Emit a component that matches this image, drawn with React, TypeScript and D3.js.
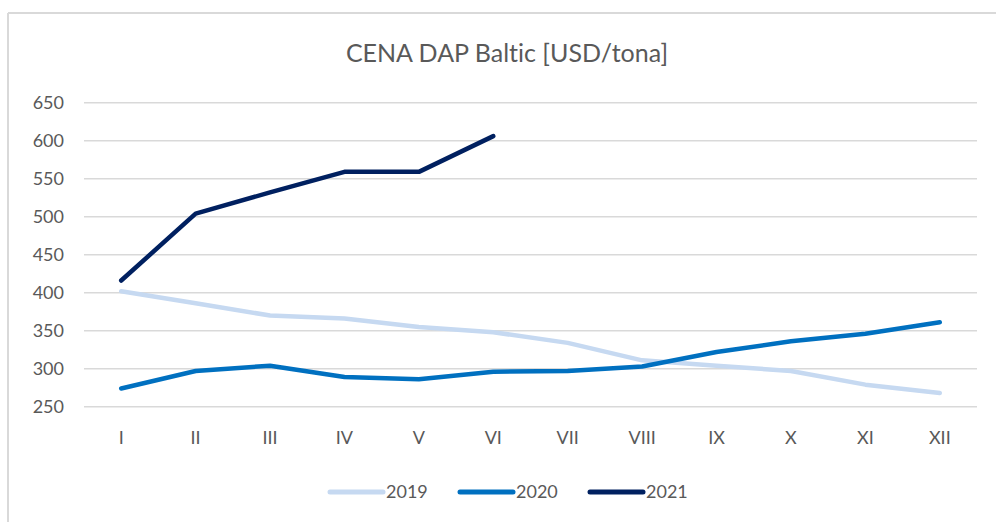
import * as React from 'react';
import * as d3 from 'd3';

const months = ['I', 'II', 'III', 'IV', 'V', 'VI', 'VII', 'VIII', 'IX', 'X', 'XI', 'XII'];
const values2019 = [402, 386, 370, 366, 355, 348, 334, 311, 304, 297, 279, 268];
const values2020 = [274, 297, 304, 289, 286, 296, 297, 303, 322, 336, 346, 361];
const values2021 = [416, 504, 532, 559, 559, 606];
const yTicks = [250, 300, 350, 400, 450, 500, 550, 600, 650];

const series = [
  {name: '2019', values: values2019, color: '#c6d9f1'},
  {name: '2020', values: values2020, color: '#0070c0'},
  {name: '2021', values: values2021, color: '#002060'},
];

const W = 996;
const H = 522;
const font = 'Lato, "Open Sans", sans-serif';
const textColor = '#595959';

export default function App() {
  const x = d3.scalePoint<string>().domain(months).range([84, 977]).padding(0.5);
  const y = d3.scaleLinear().domain([250, 650]).range([406.7, 102.7]);

  const line = d3.line<number>()
    .x((_, i) => x(months[i]) as number)
    .y(d => y(d));

  const legendX = [330, 460, 590];

  return (
    <svg width={W} height={H} style={{position: 'absolute', left: 0, top: 0, background: '#fff', fontVariantLigatures: 'none'}}
         fontFamily={font}>
      <rect x={0} y={0} width={W} height={H} fill="#fff"/>
      {/* frame of the chart area */}
      <line x1={8} x2={W} y1={13} y2={13} stroke="#d9d9d9" strokeWidth={2}/>
      <line x1={8} x2={8} y1={13} y2={H} stroke="#d9d9d9" strokeWidth={2}/>

      <text x={507} y={62} textAnchor="middle" fontSize={25} fill={textColor}>
        CENA DAP Baltic [USD/tona]
      </text>

      {yTicks.map(t => (
        <g key={t}>
          <line x1={84} x2={977} y1={y(t)} y2={y(t)} stroke="#d9d9d9" strokeWidth={1.5}/>
          <text x={64} y={y(t)} dy="0.35em" textAnchor="end" fontSize={18} fill={textColor}>{t}</text>
        </g>
      ))}

      {months.map(m => (
        <text key={m} x={x(m)} y={438} dy="0.35em" textAnchor="middle" fontSize={18} fill={textColor}>{m}</text>
      ))}

      {series.map(s => (
        <path key={s.name} d={line(s.values) || ''} fill="none" stroke={s.color}
              strokeWidth={4.5} strokeLinejoin="round" strokeLinecap="round"/>
      ))}

      {series.map((s, i) => (
        <g key={s.name} transform={`translate(${legendX[i]},492)`}>
          <line x1={0} x2={53} y1={0} y2={0} stroke={s.color} strokeWidth={5} strokeLinecap="round"/>
          <text x={56} y={0} dy="0.35em" fontSize={18} fill={textColor}>{s.name}</text>
        </g>
      ))}
    </svg>
  );
}
